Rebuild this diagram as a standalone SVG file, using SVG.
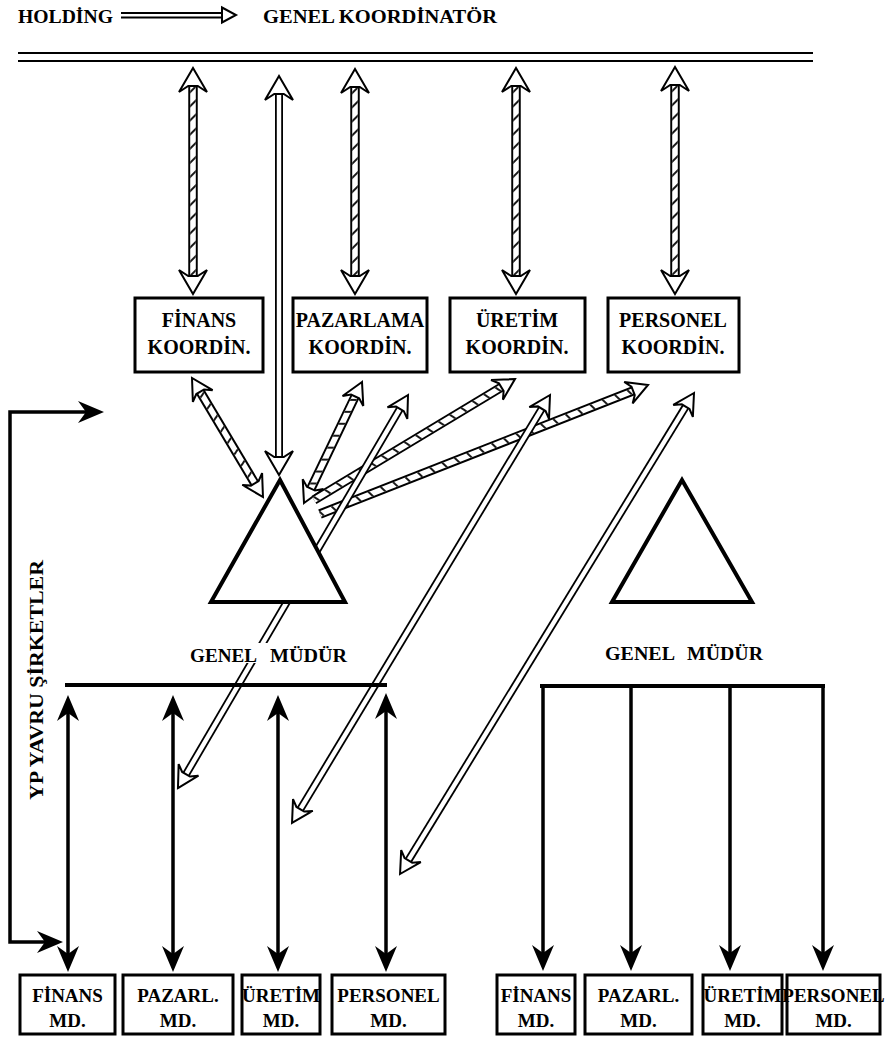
<svg xmlns="http://www.w3.org/2000/svg" width="889" height="1040" viewBox="0 0 889 1040">
<style>
text { font-family: "Liberation Serif", "Times New Roman", serif; font-weight: bold; fill: #000; }
.t20 { font-size: 20px; text-anchor: middle; }
.t19 { font-size: 19px; text-anchor: middle; }
.t18 { font-size: 18px; }
.box { fill: #fff; stroke: #000; stroke-width: 3; }
.tri { fill: #fff; stroke: #000; stroke-width: 4; stroke-linejoin: miter; }
.so { stroke: #000; stroke-width: 9.5; fill: none; }
.si { stroke: #fff; stroke-width: 5.6; fill: none; }
.sh { stroke: url(#hatch); stroke-width: 5.6; fill: none; }
.shd { stroke: url(#hatchD); stroke-width: 5.6; fill: none; }
.po { stroke: #000; stroke-width: 8; fill: none; }
.pi { stroke: #fff; stroke-width: 4.4; fill: none; }
.head { fill: #fff; stroke: #000; stroke-width: 2; stroke-linejoin: miter; }
.blk { stroke: #000; stroke-width: 3.5; fill: none; }
.bh { fill: #000; stroke: none; }
.bar { stroke: #000; stroke-width: 4; }
.thin { stroke: #000; stroke-width: 2; }
.mask { fill: #fff; stroke: none; }
</style>
<defs>
  <pattern id="hatch" width="10" height="10" patternUnits="userSpaceOnUse" patternTransform="rotate(-45)">
    <line x1="5" y1="0" x2="5" y2="10" stroke="#000" stroke-width="1.8"/>
  </pattern>
  <pattern id="hatchD" width="12" height="12" patternUnits="userSpaceOnUse" patternTransform="rotate(-25)">
    <line x1="6" y1="0" x2="6" y2="12" stroke="#000" stroke-width="1.8"/>
  </pattern>
  <path id="hv" d="M0,0 L-24,-14 L-18,-4.75 L-18,4.75 L-24,14 Z"/>
  <path id="hd" d="M0,0 L-21,-11.5 L-16,-4.5 L-16,4.5 L-21,11.5 Z"/>
  <path id="hb" d="M0,0 L-26,-11 L-18,0 L-26,11 Z"/>
</defs>

<!-- header -->
<g id="header">
  <text class="t18" x="18" y="23" textLength="95" lengthAdjust="spacingAndGlyphs">HOLDİNG</text>
  <line class="thin" x1="121" y1="13" x2="223" y2="13"/>
  <line class="thin" x1="121" y1="17.5" x2="223" y2="17.5"/>
  <path class="head" d="M222,7.5 L236,15 L222,22.5 Z"/>
  <text class="t18" x="263" y="23" textLength="234" lengthAdjust="spacingAndGlyphs">GENEL KOORDİNATÖR</text>
</g>

<g id="coordinator-line">
  <line class="thin" x1="18" y1="53" x2="813" y2="53"/>
  <line class="thin" x1="18" y1="61" x2="813" y2="61"/>
</g>

<g id="connectors">
  <!-- vertical hatched double arrows -->
  <g transform="translate(193,68) rotate(90)">
    <line class="so" x1="18" y1="0" x2="208" y2="0"/><line class="si" x1="17" y1="0" x2="209" y2="0"/><line class="sh" x1="17" y1="0" x2="209" y2="0"/>
    <use href="#hv" class="head" transform="rotate(180)"/><use href="#hv" class="head" transform="translate(226,0)"/>
  </g>
  <g transform="translate(279,76) rotate(90)">
    <line class="po" x1="18" y1="0" x2="381" y2="0"/><line class="pi" x1="17" y1="0" x2="382" y2="0"/>
    <use href="#hv" class="head" transform="rotate(180)"/><use href="#hv" class="head" transform="translate(399,0)"/>
  </g>
  <g transform="translate(355,69) rotate(90)">
    <line class="so" x1="18" y1="0" x2="207" y2="0"/><line class="si" x1="17" y1="0" x2="208" y2="0"/><line class="sh" x1="17" y1="0" x2="208" y2="0"/>
    <use href="#hv" class="head" transform="rotate(180)"/><use href="#hv" class="head" transform="translate(225,0)"/>
  </g>
  <g transform="translate(516,68) rotate(90)">
    <line class="so" x1="18" y1="0" x2="208" y2="0"/><line class="si" x1="17" y1="0" x2="209" y2="0"/><line class="sh" x1="17" y1="0" x2="209" y2="0"/>
    <use href="#hv" class="head" transform="rotate(180)"/><use href="#hv" class="head" transform="translate(226,0)"/>
  </g>
  <g transform="translate(675,67) rotate(90)">
    <line class="so" x1="18" y1="0" x2="209" y2="0"/><line class="si" x1="17" y1="0" x2="210" y2="0"/><line class="sh" x1="17" y1="0" x2="210" y2="0"/>
    <use href="#hv" class="head" transform="rotate(180)"/><use href="#hv" class="head" transform="translate(227,0)"/>
  </g>

  <!-- diagonal hatched arrows -->
  <g transform="translate(192,378) rotate(59.2)">
    <line class="so" x1="16" y1="0" x2="122.6" y2="0"/><line class="si" x1="15" y1="0" x2="123.6" y2="0"/><line class="shd" x1="15" y1="0" x2="123.6" y2="0"/>
    <use href="#hd" class="head" transform="rotate(180)"/><use href="#hd" class="head" transform="translate(138.6,0)"/>
  </g>
  <g transform="translate(362,382) rotate(115.6)">
    <line class="so" x1="16" y1="0" x2="118.2" y2="0"/><line class="si" x1="15" y1="0" x2="119.2" y2="0"/><line class="shd" x1="15" y1="0" x2="119.2" y2="0"/>
    <use href="#hd" class="head" transform="rotate(180)"/><use href="#hd" class="head" transform="translate(134.2,0)"/>
  </g>
  <g transform="translate(515,379) rotate(148.95)">
    <line class="so" x1="16" y1="0" x2="234.6" y2="0"/><line class="si" x1="15" y1="0" x2="234.6" y2="0"/><line class="shd" x1="15" y1="0" x2="234.6" y2="0"/>
    <use href="#hd" class="head" transform="rotate(180)"/>
  </g>
  <g transform="translate(648,385) rotate(158.53)">
    <line class="so" x1="16" y1="0" x2="352.5" y2="0"/><line class="si" x1="15" y1="0" x2="352.5" y2="0"/><line class="shd" x1="15" y1="0" x2="352.5" y2="0"/>
    <use href="#hd" class="head" transform="rotate(180)"/>
  </g>

  <!-- diagonal plain double-line arrows -->
  <g transform="translate(408,395) rotate(120.34)">
    <line class="po" x1="16" y1="0" x2="439.4" y2="0"/><line class="pi" x1="15" y1="0" x2="440.4" y2="0"/>
    <use href="#hd" class="head" transform="rotate(180)"/><use href="#hd" class="head" transform="translate(455.4,0)"/>
  </g>
  <g transform="translate(550,395) rotate(121.08)">
    <line class="po" x1="16" y1="0" x2="483.7" y2="0"/><line class="pi" x1="15" y1="0" x2="484.7" y2="0"/>
    <use href="#hd" class="head" transform="rotate(180)"/><use href="#hd" class="head" transform="translate(499.7,0)"/>
  </g>
  <g transform="translate(694,393) rotate(121.43)">
    <line class="po" x1="16" y1="0" x2="547.7" y2="0"/><line class="pi" x1="15" y1="0" x2="548.7" y2="0"/>
    <use href="#hd" class="head" transform="rotate(180)"/><use href="#hd" class="head" transform="translate(563.7,0)"/>
  </g>

  <!-- bracket arrow on left -->
  <path class="blk" d="M88,412 H10 V942 H48"/>
  <use href="#hb" class="bh" transform="translate(104,412)"/>
  <use href="#hb" class="bh" transform="translate(63,942)"/>

  <!-- left black double arrows -->
  <line class="blk" x1="68" y1="705" x2="68" y2="962"/>
  <use href="#hb" class="bh" transform="translate(68,695) rotate(-90)"/>
  <use href="#hb" class="bh" transform="translate(68,972) rotate(90)"/>
  <line class="blk" x1="173" y1="705" x2="173" y2="962"/>
  <use href="#hb" class="bh" transform="translate(173,695) rotate(-90)"/>
  <use href="#hb" class="bh" transform="translate(173,972) rotate(90)"/>
  <line class="blk" x1="278" y1="705" x2="278" y2="962"/>
  <use href="#hb" class="bh" transform="translate(278,695) rotate(-90)"/>
  <use href="#hb" class="bh" transform="translate(278,972) rotate(90)"/>
  <line class="blk" x1="386" y1="703" x2="386" y2="962"/>
  <use href="#hb" class="bh" transform="translate(386,693) rotate(-90)"/>
  <use href="#hb" class="bh" transform="translate(386,972) rotate(90)"/>

  <!-- right black arrows -->
  <line class="blk" x1="543" y1="686" x2="543" y2="960"/>
  <use href="#hb" class="bh" transform="translate(543,971) rotate(90)"/>
  <line class="blk" x1="631" y1="686" x2="631" y2="960"/>
  <use href="#hb" class="bh" transform="translate(631,971) rotate(90)"/>
  <line class="blk" x1="730" y1="686" x2="730" y2="960"/>
  <use href="#hb" class="bh" transform="translate(730,971) rotate(90)"/>
  <line class="blk" x1="823" y1="686" x2="823" y2="960"/>
  <use href="#hb" class="bh" transform="translate(823,971) rotate(90)"/>
</g>

<!-- coordinator boxes -->
<g id="finans-koord">
  <rect class="box" x="135" y="298" width="128" height="74"/>
  <text class="t20" x="199" y="327">FİNANS</text>
  <text class="t20" x="199" y="354">KOORDİN.</text>
</g>
<g id="pazarlama-koord">
  <rect class="box" x="293" y="298" width="134" height="74"/>
  <text class="t20" x="360" y="327">PAZARLAMA</text>
  <text class="t20" x="360" y="354">KOORDİN.</text>
</g>
<g id="uretim-koord">
  <rect class="box" x="450" y="298" width="135" height="74"/>
  <text class="t20" x="517" y="327">ÜRETİM</text>
  <text class="t20" x="517" y="354">KOORDİN.</text>
</g>
<g id="personel-koord">
  <rect class="box" x="608" y="298" width="131" height="74"/>
  <text class="t20" x="673" y="327">PERSONEL</text>
  <text class="t20" x="673" y="354">KOORDİN.</text>
</g>

<!-- general managers -->
<g id="genel-mudur-1">
  <polygon class="tri" points="280,480 211,602 345,602"/>
  <rect class="mask" x="240" y="643" width="40" height="20"/>
  <text class="t18" x="190" y="662" textLength="67" lengthAdjust="spacingAndGlyphs">GENEL</text>
  <text class="t18" x="270" y="662" textLength="77" lengthAdjust="spacingAndGlyphs">MÜDÜR</text>
  <line class="bar" x1="65" y1="685" x2="387" y2="685"/>
</g>
<g id="genel-mudur-2">
  <polygon class="tri" points="682,480 612,602 752,602"/>
  <text class="t18" x="605" y="660" textLength="70" lengthAdjust="spacingAndGlyphs">GENEL</text>
  <text class="t18" x="687" y="660" textLength="76" lengthAdjust="spacingAndGlyphs">MÜDÜR</text>
  <line class="bar" x1="540" y1="686" x2="825" y2="686"/>
</g>

<g id="yp-label">
  <text class="t18" transform="translate(43,800) rotate(-90)" x="0" y="0" textLength="240" lengthAdjust="spacingAndGlyphs">YP YAVRU ŞİRKETLER</text>
</g>

<!-- left company managers -->
<g id="l-finans-md">
  <rect class="box" x="20" y="975" width="95" height="59"/>
  <text class="t19" x="67.5" y="1002">FİNANS</text><text class="t19" x="67.5" y="1027">MD.</text>
</g>
<g id="l-pazarl-md">
  <rect class="box" x="123" y="975" width="110" height="59"/>
  <text class="t19" x="178" y="1002">PAZARL.</text><text class="t19" x="178" y="1027">MD.</text>
</g>
<g id="l-uretim-md">
  <rect class="box" x="242" y="975" width="78" height="59"/>
  <text class="t19" x="281" y="1002">ÜRETİM</text><text class="t19" x="281" y="1027">MD.</text>
</g>
<g id="l-personel-md">
  <rect class="box" x="332" y="975" width="113" height="59"/>
  <text class="t19" x="388.5" y="1002">PERSONEL</text><text class="t19" x="388.5" y="1027">MD.</text>
</g>

<!-- right company managers -->
<g id="r-finans-md">
  <rect class="box" x="497" y="975" width="78" height="59"/>
  <text class="t19" x="536" y="1002">FİNANS</text><text class="t19" x="536" y="1027">MD.</text>
</g>
<g id="r-pazarl-md">
  <rect class="box" x="585" y="975" width="107" height="59"/>
  <text class="t19" x="638.5" y="1002">PAZARL.</text><text class="t19" x="638.5" y="1027">MD.</text>
</g>
<g id="r-uretim-md">
  <rect class="box" x="703" y="975" width="79" height="59"/>
  <text class="t19" x="742.5" y="1002">ÜRETİM</text><text class="t19" x="742.5" y="1027">MD.</text>
</g>
<g id="r-personel-md">
  <rect class="box" x="787" y="975" width="93" height="59"/>
  <text class="t19" x="833.5" y="1002">PERSONEL</text><text class="t19" x="833.5" y="1027">MD.</text>
</g>
</svg>
